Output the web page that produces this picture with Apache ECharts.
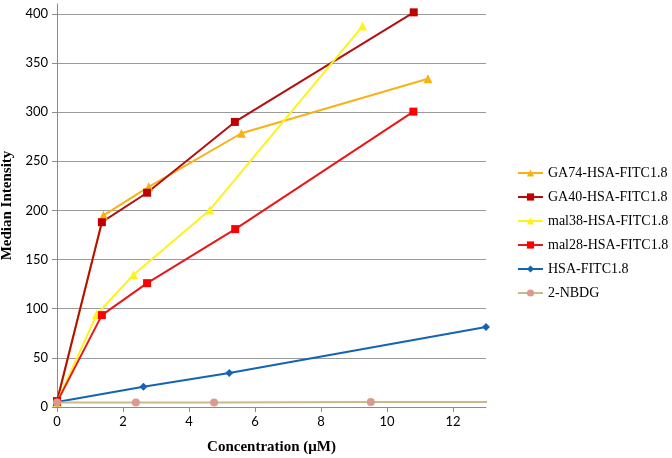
<!DOCTYPE html>
<html>
<head>
<meta charset="utf-8">
<script src="https://cdn.jsdelivr.net/npm/echarts@6/dist/echarts.min.js"></script>
<style>
html,body{margin:0;padding:0;background:#fff;}
#chart{width:672px;height:458px;}
</style>
</head>
<body>
<div id="chart"></div>
<script>
// ---- data ----
var seriesNames = ['GA74-HSA-FITC1.8', 'GA40-HSA-FITC1.8', 'mal38-HSA-FITC1.8', 'mal28-HSA-FITC1.8', 'HSA-FITC1.8', '2-NBDG'];
var concGA74 = [0, 1.41, 2.78, 5.59, 11.24];
var intGA74  = [5, 195, 224, 278.5, 334];
var concGA40 = [0, 1.36, 2.73, 5.39, 10.81];
var intGA40  = [6, 188, 218, 290, 401.5];
var concMal38 = [0, 1.2, 2.32, 4.63, 9.26];
var intMal38  = [5, 94, 134.5, 200.5, 387.5];
var concMal28 = [0, 1.36, 2.73, 5.4, 10.8];
var intMal28  = [5, 93.5, 126, 181, 300.5];
var concHSA = [0, 2.62, 5.22, 13.0];
var intHSA  = [5, 20.5, 34.5, 81.5];
var concNBDG = [0, 2.39, 4.76, 9.51, 19.0];
var intNBDG  = [4.5, 4.5, 4.5, 5, 5.5];
var xTicks = [0, 2, 4, 6, 8, 10, 12];
var yTicks = [0, 50, 100, 150, 200, 250, 300, 350, 400];

function pairs(xs, ys) { return xs.map(function (x, i) { return [x, ys[i]]; }); }

var chart = echarts.init(document.getElementById('chart'), null, {renderer: 'canvas'});
var serif = '"Liberation Serif", "DejaVu Serif", serif';
var sans = 'Lato, "Open Sans", sans-serif';

function mk(name, xs, ys, lineColor, symColor, symbol, size) {
  return {
    name: name, type: 'line', data: pairs(xs, ys),
    symbol: symbol, symbolSize: size, showSymbol: true,
    lineStyle: {color: lineColor, width: 2},
    itemStyle: {color: symColor},
    animation: false, clip: true
  };
}

var splitColors = yTicks.map(function () { return '#9a9a9a'; });
splitColors.push('rgba(0,0,0,0)');

chart.setOption({
  animation: false,
  grid: {left: 57, right: 186, top: 4, bottom: 51, containLabel: false, outerBoundsMode: 'none'},
  legend: {
    orient: 'vertical', left: 512, top: 161, itemWidth: 25, itemHeight: 9, itemGap: 10,
    data: seriesNames,
    textStyle: {fontFamily: serif, fontSize: 14, color: '#000'}
  },
  xAxis: {
    type: 'value', min: 0, max: 13, interval: 2,
    name: 'Concentration (\u03bcM)', nameLocation: 'middle', nameGap: 33,
    nameTextStyle: {fontFamily: serif, fontWeight: 'bold', fontSize: 15, color: '#000'},
    axisLine: {lineStyle: {color: '#8c8c8c', width: 1}},
    axisTick: {show: true, length: 5, lineStyle: {color: '#8c8c8c'}, customValues: xTicks},
    axisLabel: {customValues: xTicks, fontFamily: sans, fontSize: 13, color: '#000', margin: 8},
    splitLine: {show: false}
  },
  yAxis: {
    type: 'value', min: 0, max: 410, interval: 50,
    name: 'Median Intensity', nameLocation: 'middle', nameGap: 39,
    nameTextStyle: {fontFamily: serif, fontWeight: 'bold', fontSize: 15, color: '#000'},
    axisLine: {show: true, lineStyle: {color: '#8c8c8c', width: 1}},
    axisTick: {show: true, length: 5, lineStyle: {color: '#8c8c8c'}, customValues: yTicks},
    axisLabel: {customValues: yTicks, fontFamily: sans, fontSize: 13, color: '#000', margin: 9},
    splitLine: {show: true, lineStyle: {color: splitColors, width: 1}}
  },
  series: [
    mk(seriesNames[0], concGA74, intGA74, '#F7B217', '#F7B217', 'triangle', 9),
    mk(seriesNames[1], concGA40, intGA40, '#B40F0F', '#C00000', 'rect', 8),
    mk(seriesNames[2], concMal38, intMal38, '#FFF21A', '#FFF21A', 'triangle', 9),
    mk(seriesNames[3], concMal28, intMal28, '#E81818', '#FF0000', 'rect', 8),
    mk(seriesNames[4], concHSA, intHSA, '#1464B4', '#1464B4', 'diamond', 8),
    mk(seriesNames[5], concNBDG, intNBDG, '#C9BA8C', '#DB9A8E', 'circle', 8)
  ]
});
</script>
</body>
</html>
